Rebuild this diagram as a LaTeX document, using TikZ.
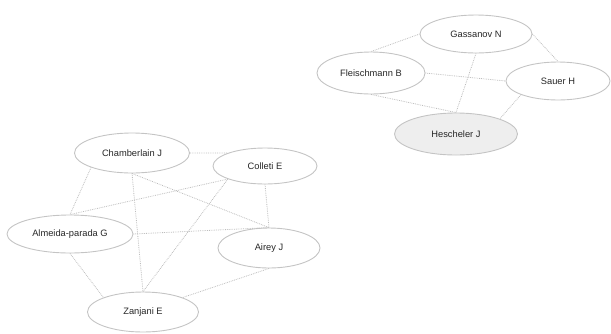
\documentclass[tikz,border=0pt]{standalone}
\usepackage{fontspec}
\setmainfont{Liberation Sans}
\usetikzlibrary{shapes.geometric}
\definecolor{rimgray}{HTML}{C4C4C4}
\definecolor{linkgray}{HTML}{BDBDBD}
\definecolor{hubfill}{HTML}{EEEEEE}

\begin{document}
\begin{tikzpicture}[x=1pt,y=-1pt,
    author/.style={ellipse,draw=rimgray,line width=0.9pt,inner sep=0pt,text=black!85,font=\fontsize{9.3}{10}\selectfont},
    coauth/.style={draw=linkgray,densely dotted,line width=0.8pt}]
    \useasboundingbox (0,0) rectangle (611,333);

    % first group
    \node[author,minimum width=112,minimum height=38] (gas) at (476,34) {Gassanov N};
    \node[author,minimum width=108,minimum height=42] (fle) at (371,73) {Fleischmann B};
    \node[author,minimum width=104,minimum height=38] (sau) at (558,81) {Sauer H};
    \node[author,fill=hubfill,minimum width=123,minimum height=42] (hes) at (456,134) {Hescheler J};

    % second group
    \node[author,minimum width=115,minimum height=40] (cha) at (132,153) {Chamberlain J};
    \node[author,minimum width=104,minimum height=36] (col) at (265,166) {Colleti E};
    \node[author,minimum width=126,minimum height=38] (alm) at (70,234) {Almeida-parada G};
    \node[author,minimum width=102,minimum height=40] (air) at (269,248) {Airey J};
    \node[author,minimum width=111,minimum height=40] (zan) at (143,312) {Zanjani E};

    \path[coauth] (gas.west) edge (fle.north)
    (gas.east) edge (sau.north)
    (gas.south) edge (hes.north)
    (fle.east) edge (sau.west)
    (fle.south) edge (hes.north)
    (sau.south west) edge (hes.north east);

    \path[coauth] (cha.east) edge (col.north west)
    (cha.south west) edge (alm.north)
    (cha.south) edge (zan.north) edge (air.north)
    (col.south west) edge (alm.north) edge (zan.north)
    (col.south) edge (air.north)
    (alm.east) edge (air.north)
    (alm.south) edge (zan.north west)
    (air.south) edge (zan.north east);
\end{tikzpicture}
\end{document}
